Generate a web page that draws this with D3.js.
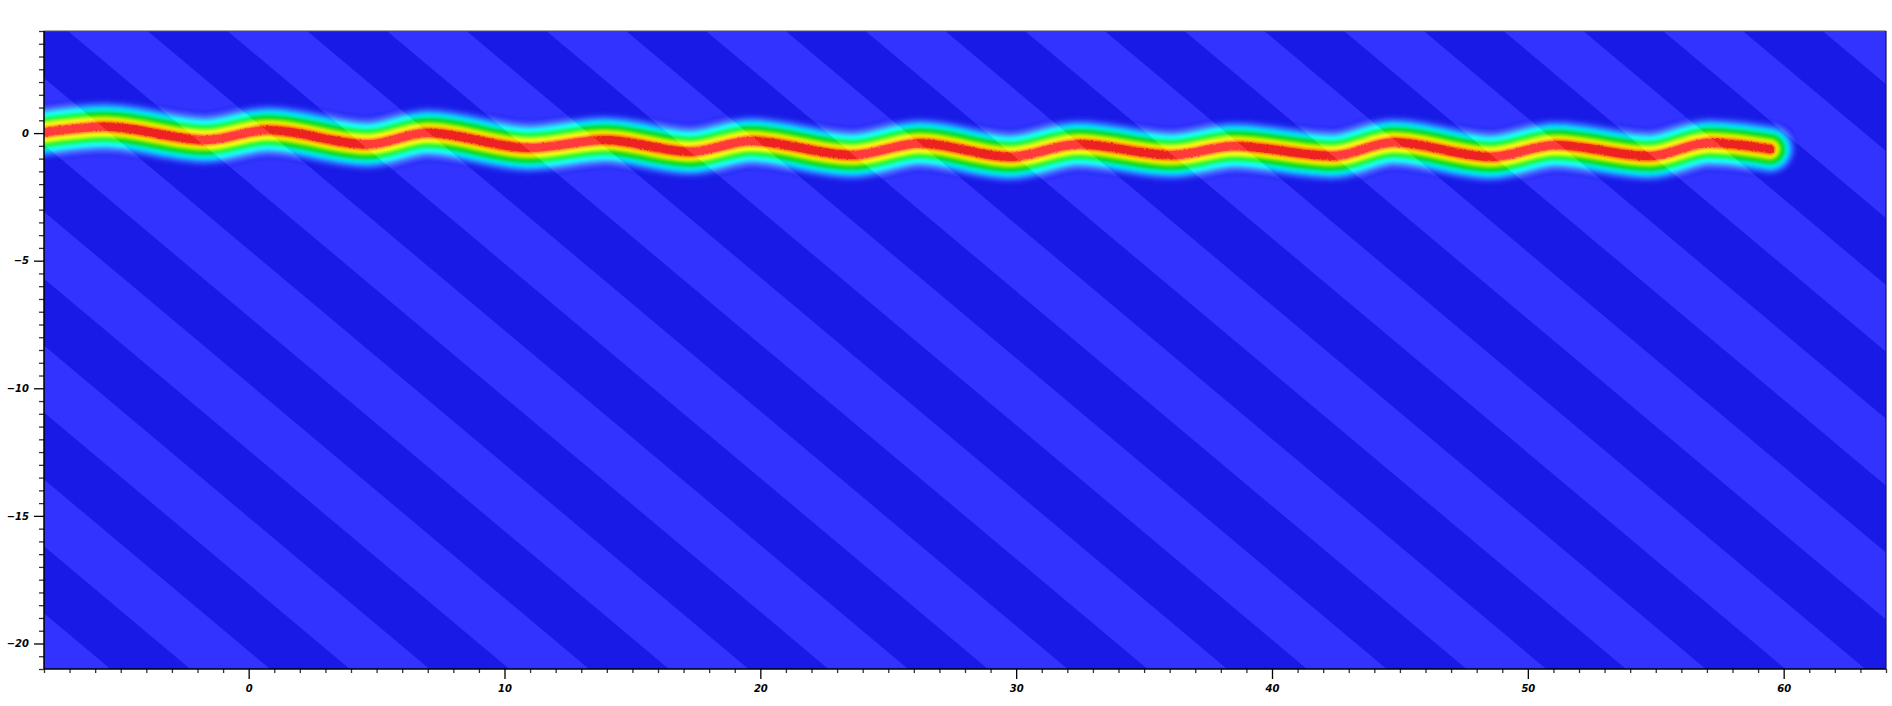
<!DOCTYPE html>
<html><head><meta charset="utf-8">
<script src="https://cdn.jsdelivr.net/npm/d3@7"></script>
<style>html,body{margin:0;padding:0;background:#fff;overflow:hidden}</style>
</head><body><svg id="chart" width="1892" height="706"></svg>
<script>
// ---------------- data ----------------
const xDomain = [-8, 64];
const yDomain = [-21, 4];
const xTickValues = [0, 10, 20, 30, 40, 50, 60];
const yTickValues = [-20, -15, -10, -5, 0];
const xMinorStep = 1;
const yMinorStep = 0.5;

// ridge centre line (x, y)
const ridgeX = [-8.0, -5.58, -1.68, 0.75, 4.65, 7.0, 10.97, 13.93, 17.27, 19.62, 23.6, 26.24, 29.77, 32.42, 36.09, 38.53, 42.39, 44.75, 48.57, 51.07, 54.75, 57.1, 59.46];
const ridgeY = [0.03, 0.25, -0.27, 0.12, -0.44, 0.01, -0.58, -0.27, -0.73, -0.31, -0.86, -0.40, -0.93, -0.44, -0.86, -0.51, -0.89, -0.36, -0.93, -0.47, -0.90, -0.38, -0.63];
const ridgeSigma = 0.42;          // gaussian width of the ridge (x units)

// diagonal background bands: boundaries where y + slope*x = offset + k*period
const stripeSlope = 0.841;
const stripePeriod = 2.622;
const stripeOffset = -4.567;

// colour map for ridge intensity 0..1 (dark band background at 0)
const cmapStops  = [0.00, 0.04, 0.10, 0.16, 0.23, 0.32, 0.42, 0.55, 0.68, 0.80, 0.88, 0.94, 1.00];
const cmapColors = ["#1a1ae6", "#1c22e8", "#2f5cff", "#1c9cff", "#00e0ff", "#00ecb4", "#00e040", "#12dc12", "#9cf000", "#fff000", "#ff9000", "#ee2424", "#ec2020"];
const lightShift = 25;

// ---------------- layout ----------------
const W = 1892, H = 706;
const margin = {left: 44, right: 6, top: 31, bottom: 37};
const svg = d3.select("#chart");
svg.append("rect").attr("width", W).attr("height", H).attr("fill", "#fff");

const x = d3.scaleLinear().domain(xDomain).range([margin.left, W - margin.right]);
const y = d3.scaleLinear().domain(yDomain).range([H - margin.bottom, margin.top]);

const defs = svg.append("defs");
defs.append("clipPath").attr("id", "plotClip").append("rect")
  .attr("x", x(xDomain[0])).attr("y", y(yDomain[1]))
  .attr("width", x(xDomain[1]) - x(xDomain[0])).attr("height", y(yDomain[0]) - y(yDomain[1]));

const soft = defs.append("filter").attr("id", "soft").attr("filterUnits", "userSpaceOnUse")
  .attr("x", 0).attr("y", 0).attr("width", W).attr("height", H);
soft.append("feGaussianBlur").attr("stdDeviation", 0.9);

const rough = defs.append("filter").attr("id", "rough").attr("filterUnits", "userSpaceOnUse")
  .attr("x", 0).attr("y", 0).attr("width", W).attr("height", H);
rough.append("feTurbulence").attr("type", "fractalNoise").attr("baseFrequency", 0.45)
  .attr("numOctaves", 2).attr("seed", 7).attr("result", "noise");
rough.append("feDisplacementMap").attr("in", "SourceGraphic").attr("in2", "noise")
  .attr("scale", 3).attr("xChannelSelector", "R").attr("yChannelSelector", "G");

function shiftColor(c) {
  const r = d3.rgb(c);
  return d3.rgb(Math.min(255, r.r + lightShift), Math.min(255, r.g + lightShift), Math.min(255, r.b + lightShift)).formatHex();
}

// stripe polygons
const uMin = yDomain[0] + stripeSlope * xDomain[0];
const uMax = yDomain[1] + stripeSlope * xDomain[1];
const jMin = Math.floor((uMin - stripeOffset) / stripePeriod) - 1;
const jMax = Math.ceil((uMax - stripeOffset) / stripePeriod) + 1;
const stripes = d3.range(jMin, jMax + 1).map(j => {
  const a = stripeOffset + j * stripePeriod, b = a + stripePeriod;
  const x0 = xDomain[0] - 1, x1 = xDomain[1] + 1;
  return {light: ((j % 2) + 2) % 2 === 1,
          pts: [[x0, a - stripeSlope * x0], [x1, a - stripeSlope * x1], [x1, b - stripeSlope * x1], [x0, b - stripeSlope * x0]]};
});
const poly = d => "M" + d.pts.map(p => [x(p[0]), y(p[1])].join(",")).join("L") + "Z";

defs.append("clipPath").attr("id", "lightClip").selectAll("path")
  .data(stripes.filter(d => d.light)).join("path").attr("d", poly);

const plot = svg.append("g").attr("clip-path", "url(#plotClip)");
plot.append("rect")
  .attr("x", x(xDomain[0])).attr("y", y(yDomain[1]))
  .attr("width", x(xDomain[1]) - x(xDomain[0])).attr("height", y(yDomain[0]) - y(yDomain[1]))
  .attr("fill", cmapColors[0]);
plot.append("g").selectAll("path").data(stripes.filter(d => d.light)).join("path")
  .attr("d", poly).attr("fill", shiftColor(cmapColors[0]));

// ridge
const cmap = d3.scaleLinear().domain(cmapStops).range(cmapColors).interpolate(d3.interpolateRgb).clamp(true);
const ridge = ridgeX.map((v, i) => [v, ridgeY[i]]);
const line = d3.line().x(d => x(d[0])).y(d => y(d[1])).curve(d3.curveMonotoneX);
const sigmaPx = x(ridgeSigma) - x(0);
const levels = d3.range(0.03, 0.995, 0.012);
const coreLevel = 0.93;
const halfWidth = v => sigmaPx * Math.sqrt(2 * Math.log(1 / v));

function drawRidge(parent, colorFn) {
  const outer = parent.append("g").attr("filter", "url(#soft)");
  outer.selectAll("path").data(levels.filter(v => v < coreLevel)).join("path")
    .attr("d", line(ridge)).attr("fill", "none")
    .attr("stroke", v => colorFn(cmap(v)))
    .attr("stroke-width", v => 2 * halfWidth(v))
    .attr("stroke-linecap", "round").attr("stroke-linejoin", "round");
  const core = parent.append("g").attr("filter", "url(#rough)");
  core.selectAll("path").data(levels.filter(v => v >= coreLevel)).join("path")
    .attr("d", line(ridge)).attr("fill", "none")
    .attr("stroke", v => colorFn(cmap(v)))
    .attr("stroke-width", v => 2 * halfWidth(v))
    .attr("stroke-linecap", "round").attr("stroke-linejoin", "round");
}
drawRidge(plot.append("g"), c => d3.rgb(c).formatHex());
drawRidge(plot.append("g").attr("clip-path", "url(#lightClip)"), shiftColor);

// ---------------- axes ----------------
const fontStyle = s => s.attr("font-family", "'DejaVu Sans', sans-serif").attr("font-size", 10)
  .attr("font-weight", "bold").attr("font-style", "italic").attr("fill", "#000");

const xMinor = d3.range(xDomain[0], xDomain[1] + 0.001, xMinorStep).filter(v => !xTickValues.includes(v));
const yMinor = d3.range(yDomain[0], yDomain[1] + 0.001, yMinorStep).filter(v => !yTickValues.includes(v));

const gxMinor = svg.append("g").attr("transform", `translate(0,${y(yDomain[0])})`)
  .call(d3.axisBottom(x).tickValues(xMinor).tickSize(4).tickFormat(""));
const gx = svg.append("g").attr("transform", `translate(0,${y(yDomain[0])})`)
  .call(d3.axisBottom(x).tickValues(xTickValues).tickSize(10).tickPadding(6).tickFormat(d3.format("")));
const gyMinor = svg.append("g").attr("transform", `translate(${x(xDomain[0])},0)`)
  .call(d3.axisLeft(y).tickValues(yMinor).tickSize(5).tickFormat(""));
const gy = svg.append("g").attr("transform", `translate(${x(xDomain[0])},0)`)
  .call(d3.axisLeft(y).tickValues(yTickValues).tickSize(10).tickPadding(5).tickFormat(d3.format("")));

[gxMinor, gx, gyMinor, gy].forEach(g => g.select(".domain").remove());
[gxMinor, gyMinor].forEach(g => g.selectAll(".tick line").attr("stroke", "#333").attr("stroke-width", 1.3));
[gx, gy].forEach(g => {
  g.selectAll(".tick line").attr("stroke", "#000").attr("stroke-width", 1.3);
  g.selectAll(".tick text").call(fontStyle);
});

// frame
const fx0 = x(xDomain[0]), fx1 = x(xDomain[1]), fy0 = y(yDomain[1]), fy1 = y(yDomain[0]);
svg.append("line").attr("x1", fx0).attr("x2", fx1).attr("y1", fy0).attr("y2", fy0).attr("stroke", "#555").attr("stroke-width", 1.2);
svg.append("line").attr("x1", fx1).attr("x2", fx1).attr("y1", fy0).attr("y2", fy1).attr("stroke", "#10106a").attr("stroke-width", 1.2);
svg.append("line").attr("x1", fx0).attr("x2", fx1).attr("y1", fy1).attr("y2", fy1).attr("stroke", "#000").attr("stroke-width", 1.5);
svg.append("line").attr("x1", fx0).attr("x2", fx0).attr("y1", fy0).attr("y2", fy1).attr("stroke", "#000").attr("stroke-width", 1.5);
</script>
</body></html>
